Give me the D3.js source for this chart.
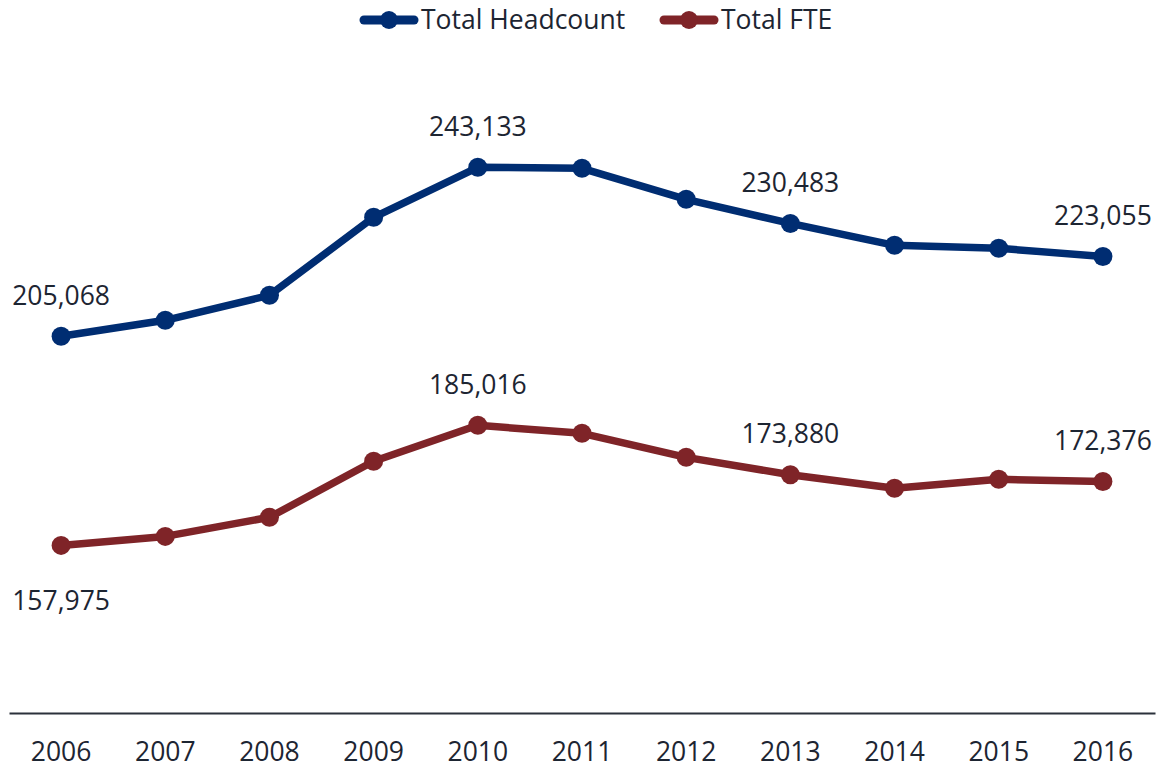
<!DOCTYPE html>
<html>
<head>
<meta charset="utf-8">
<script src="https://cdn.jsdelivr.net/npm/d3@7"></script>
<style>
  body { margin: 0; background: #fff; }
  svg { display: block; font-family: "Open Sans", sans-serif; }
</style>
</head>
<body>
<svg id="chart" width="1159" height="769"></svg>
<script>
const years = ["2006","2007","2008","2009","2010","2011","2012","2013","2014","2015","2016"];
const headcount = [205068, 208670, 214300, 231870, 243133, 242900, 235920, 230483, 225560, 224890, 223055];
const fte = [157975, 160000, 164310, 176920, 185016, 183220, 177810, 173880, 170840, 172860, 172376];
const seriesNames = ["Total Headcount", "Total FTE"];
const seriesColors = ["#002d72", "#7f2428"];
const labelIdx = [[0,4,7,10],[0,4,7,10]];
const labelBelow = [[],[0]];

const svg = d3.select("#chart");
const x = d3.scaleBand().domain(years).range([9, 1155]).padding(0);
const y = d3.scaleLinear().domain([120000, 270000]).range([714, 48]);
const fmt = d3.format(",");
const textColor = "#1d2532";
const fs = 26.5;

// axis
const xAxis = d3.axisBottom(x).tickSize(0).tickPadding(29);
const gx = svg.append("g").attr("transform", "translate(0,713)").call(xAxis);
gx.select(".domain").attr("stroke", "#2b313b").attr("stroke-width", 2);
gx.selectAll("text").attr("font-size", fs).attr("fill", textColor).attr("font-family", "Open Sans");

const allSeries = [headcount, fte];
const line = d3.line().x((d,i) => x(years[i]) + x.bandwidth()/2).y(d => y(d));

allSeries.forEach((vals, s) => {
  const g = svg.append("g");
  g.append("path").datum(vals).attr("d", line).attr("fill", "none")
    .attr("stroke", seriesColors[s]).attr("stroke-width", 7.5).attr("stroke-linejoin", "round");
  g.selectAll("circle").data(vals).join("circle")
    .attr("cx", (d,i) => x(years[i]) + x.bandwidth()/2)
    .attr("cy", d => y(d)).attr("r", 9.5).attr("fill", seriesColors[s]);
  g.selectAll("text").data(labelIdx[s]).join("text")
    .attr("x", i => x(years[i]) + x.bandwidth()/2)
    .attr("y", i => y(vals[i]) + (labelBelow[s].includes(i) ? 55.5 : -41))
    .attr("dy", "0.35em")
    .attr("text-anchor", "middle").attr("font-size", fs).attr("fill", textColor)
    .text(i => fmt(vals[i]));
});

// legend
const legendX = [360, 660];
seriesNames.forEach((name, s) => {
  const g = svg.append("g").attr("transform", `translate(${legendX[s]},20)`);
  g.append("line").attr("x1", 4).attr("x2", 54).attr("y1", 0).attr("y2", 0)
    .attr("stroke", seriesColors[s]).attr("stroke-width", 9).attr("stroke-linecap", "round");
  g.append("circle").attr("cx", 29).attr("cy", 0).attr("r", 9).attr("fill", seriesColors[s]);
  g.append("text").attr("x", 61).attr("y", 0).attr("dy", "0.35em")
    .attr("font-size", fs).attr("fill", textColor).text(name);
});
</script>
</body>
</html>
